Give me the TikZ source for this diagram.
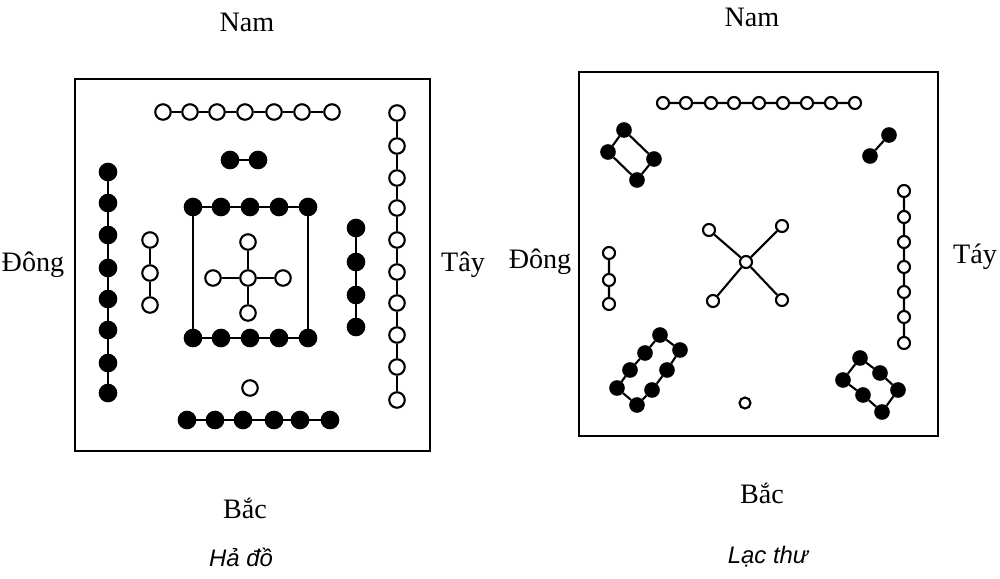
\documentclass[tikz,border=0pt]{standalone}
\usepackage{fontspec}
\setmainfont{Liberation Serif}
\newfontfamily\capfont{Liberation Sans}
\usepackage{tikz}

\tikzset{
  wdot/.style={draw, circle, semithick, fill=white, inner sep=0pt, minimum size=0.155cm},
  bdot/.style={draw, circle, semithick, fill=black, inner sep=0pt, minimum size=0.165cm},
  swdot/.style={draw, circle, semithick, fill=white, inner sep=0pt, minimum size=0.12cm},
  sbdot/.style={draw, circle, semithick, fill=black, inner sep=0pt, minimum size=0.135cm},
  side/.style={font=\fontsize{8}{9.6}\selectfont},
  caption/.style={font=\capfont\itshape\fontsize{6.8}{8}\selectfont}
}

\begin{document}
\begin{tikzpicture}[x=0.01cm, y=-0.01cm]
      \useasboundingbox (0,0) rectangle (1000,578);

      % Ha do
      \draw[semithick] (75,79) rectangle (430,451);
      \node (ht1) at (163,112) [wdot] {};
      \node (ht2) at (190,112) [wdot] {};
      \node (ht3) at (217,112) [wdot] {};
      \node (ht4) at (245,112) [wdot] {};
      \node (ht5) at (274,112) [wdot] {};
      \node (ht6) at (302,112) [wdot] {};
      \node (ht7) at (332,112) [wdot] {};
      \node (hp1) at (230,160) [bdot] {};
      \node (hp2) at (258,160) [bdot] {};
      \node (hl1) at (108,172) [bdot] {};
      \node (hl2) at (108,203) [bdot] {};
      \node (hl3) at (108,235) [bdot] {};
      \node (hl4) at (108,268) [bdot] {};
      \node (hl5) at (108,299) [bdot] {};
      \node (hl6) at (108,330) [bdot] {};
      \node (hl7) at (108,363) [bdot] {};
      \node (hl8) at (108,393) [bdot] {};
      \node (hw1) at (150,240) [wdot] {};
      \node (hw2) at (150,273) [wdot] {};
      \node (hw3) at (150,305) [wdot] {};
      \node (hs1) at (193,207) [bdot] {};
      \node (hs2) at (221,207) [bdot] {};
      \node (hs3) at (250,207) [bdot] {};
      \node (hs4) at (279,207) [bdot] {};
      \node (hs5) at (308,207) [bdot] {};
      \node (hb1) at (193,338) [bdot] {};
      \node (hb2) at (221,338) [bdot] {};
      \node (hb3) at (250,338) [bdot] {};
      \node (hb4) at (279,338) [bdot] {};
      \node (hb5) at (308,338) [bdot] {};
      \node (hc) at (248,278) [wdot] {};
      \node (hcn) at (248,242) [wdot] {};
      \node (hcs) at (248,313) [wdot] {};
      \node (hcw) at (213,278) [wdot] {};
      \node (hce) at (283,278) [wdot] {};
      \node (hr1) at (356,228) [bdot] {};
      \node (hr2) at (356,262) [bdot] {};
      \node (hr3) at (356,295) [bdot] {};
      \node (hr4) at (356,327) [bdot] {};
      \node (hx1) at (397,113) [wdot] {};
      \node (hx2) at (397,146) [wdot] {};
      \node (hx3) at (397,178) [wdot] {};
      \node (hx4) at (397,208) [wdot] {};
      \node (hx5) at (397,240) [wdot] {};
      \node (hx6) at (397,272) [wdot] {};
      \node (hx7) at (397,303) [wdot] {};
      \node (hx8) at (397,335) [wdot] {};
      \node (hx9) at (397,367) [wdot] {};
      \node (hx10) at (397,400) [wdot] {};
      \node (ho) at (250,388) [wdot] {};
      \node (hd1) at (187,420) [bdot] {};
      \node (hd2) at (215,420) [bdot] {};
      \node (hd3) at (243,420) [bdot] {};
      \node (hd4) at (274,420) [bdot] {};
      \node (hd5) at (300,420) [bdot] {};
      \node (hd6) at (330,420) [bdot] {};
      \draw[semithick]
      (ht1) to (ht2) to (ht3) to (ht4) to (ht5) to (ht6) to (ht7)
      (hp1) to (hp2)
      (hl1) to (hl2) to (hl3) to (hl4) to (hl5) to (hl6) to (hl7) to (hl8)
      (hw1) to (hw2) to (hw3)
      (hb1) to (hs1) to (hs2) to (hs3) to (hs4) to (hs5) to (hb5) to (hb4) to (hb3) to (hb2) to (hb1)
      (hcn) to (hc) to (hcs) (hcw) to (hc) to (hce)
      (hr1) to (hr2) to (hr3) to (hr4)
      (hx1) to (hx2) to (hx3) to (hx4) to (hx5) to (hx6) to (hx7) to (hx8) to (hx9) to (hx10)
      (hd1) to (hd2) to (hd3) to (hd4) to (hd5) to (hd6);
      \node[side] (hnam) at (247,22) {Nam};
      \node[side] (hdong) at (33,265) {Đông};
      \node[side] (htay) at (463,265) {Tây};
      \node[side] (hbac) at (245,508) {Bắc};
      \node[caption] (hname) at (241,557) {Hả đồ};

      % Lac thu
      \draw[semithick] (579,72) rectangle (938,436);
      \node (lt1) at (663,103) [swdot] {};
      \node (lt2) at (686,103) [swdot] {};
      \node (lt3) at (711,103) [swdot] {};
      \node (lt4) at (734,103) [swdot] {};
      \node (lt5) at (759,103) [swdot] {};
      \node (lt6) at (783,103) [swdot] {};
      \node (lt7) at (807,103) [swdot] {};
      \node (lt8) at (831,103) [swdot] {};
      \node (lt9) at (855,103) [swdot] {};
      \node (la) at (624,130) [sbdot] {};
      \node (lb) at (608,152) [sbdot] {};
      \node (lc) at (654,159) [sbdot] {};
      \node (ld) at (637,180) [sbdot] {};
      \node (lp1) at (889,135) [sbdot] {};
      \node (lp2) at (870,156) [sbdot] {};
      \node (lw1) at (609,253) [swdot] {};
      \node (lw2) at (609,280) [swdot] {};
      \node (lw3) at (609,304) [swdot] {};
      \node (lx) at (746,262) [swdot] {};
      \node (lx1) at (709,230) [swdot] {};
      \node (lx2) at (782,226) [swdot] {};
      \node (lx3) at (713,301) [swdot] {};
      \node (lx4) at (782,300) [swdot] {};
      \node (lr1) at (904,191) [swdot] {};
      \node (lr2) at (904,217) [swdot] {};
      \node (lr3) at (904,242) [swdot] {};
      \node (lr4) at (904,267) [swdot] {};
      \node (lr5) at (904,292) [swdot] {};
      \node (lr6) at (904,317) [swdot] {};
      \node (lr7) at (904,343) [swdot] {};
      \node (lm1) at (660,335) [sbdot] {};
      \node (lm2) at (645,353) [sbdot] {};
      \node (lm3) at (630,370) [sbdot] {};
      \node (lm4) at (617,388) [sbdot] {};
      \node (ln1) at (680,350) [sbdot] {};
      \node (ln2) at (667,370) [sbdot] {};
      \node (ln3) at (652,390) [sbdot] {};
      \node (ln4) at (637,405) [sbdot] {};
      \node (lq1) at (860,358) [sbdot] {};
      \node (lq2) at (880,373) [sbdot] {};
      \node (lq3) at (898,390) [sbdot] {};
      \node (lq4) at (882,412) [sbdot] {};
      \node (lq5) at (863,395) [sbdot] {};
      \node (lq6) at (843,380) [sbdot] {};
      \node (lo) at (745,403) [swdot, minimum size=0.11cm] {};
      \draw[semithick]
      (lt1) to (lt2) to (lt3) to (lt4) to (lt5) to (lt6) to (lt7) to (lt8) to (lt9)
      (la) to (lb) to (ld) to (lc) to (la)
      (lp1) to (lp2)
      (lw1) to (lw2) to (lw3)
      (lx1) to (lx) to (lx4) (lx2) to (lx) to (lx3)
      (lr1) to (lr2) to (lr3) to (lr4) to (lr5) to (lr6) to (lr7)
      (lm1) to (lm2) to (lm3) to (lm4) to (ln4) to (ln3) to (ln2) to (ln1) to (lm1)
      (lq1) to (lq2) to (lq3) to (lq4) to (lq5) to (lq6) to (lq1);
      \node[side] (lnam) at (752,17) {Nam};
      \node[side] (ldong) at (540,262) {Đông};
      \node[side] (ltay) at (975,257) {Táy};
      \node[side] (lbac) at (762,493) {Bắc};
      \node[caption] (lname) at (768,557) {Lạc thư};

    \end{tikzpicture}
\end{document}
